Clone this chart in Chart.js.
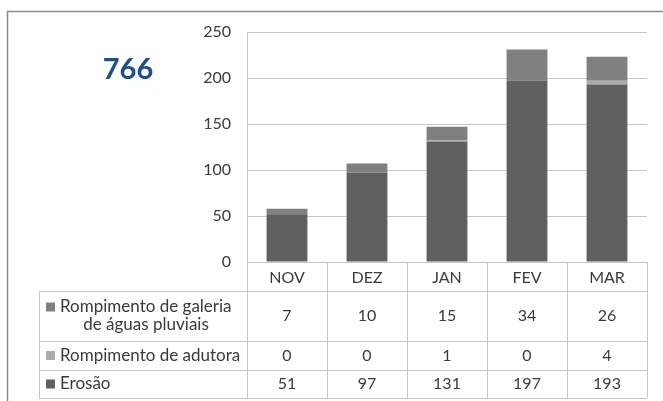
<!DOCTYPE html>
<html>
<head>
<meta charset="utf-8">
<script src="https://cdn.jsdelivr.net/npm/chart.js@4"></script>
<style>
  html, body { margin: 0; padding: 0; background: #fff; }
  #wrap { width: 663px; height: 401px; }
</style>
</head>
<body>
<div id="wrap"><canvas id="chart" width="663" height="401"></canvas></div>
<script>
// chart data
const months = ["NOV", "DEZ", "JAN", "FEV", "MAR"];
const erosao = [51, 97, 131, 197, 193];
const adutora = [0, 0, 1, 0, 4];
const galeria = [7, 10, 15, 34, 26];
const total = "766";
const yTicks = [0, 50, 100, 150, 200, 250];

const FONT = "Lato, 'Liberation Sans', sans-serif";
const TEXT = "#3a3a3a";
const LINE = "#c6c6c6";

// table rows (top to bottom), same order as the Excel data table
const rows = [
  { label: ["Rompimento de galeria", "de águas pluviais"], data: galeria, color: "#808080", top: 291, bottom: 341 },
  { label: ["Rompimento de adutora"], data: adutora, color: "#ababab", top: 341, bottom: 370 },
  { label: ["Erosão"], data: erosao, color: "#606060", top: 370, bottom: 398 },
];

// draws frame, big number and the data table under the chart
const tablePlugin = {
  id: "dataTable",
  afterDraw(chart) {
    const ctx = chart.ctx;
    const x = chart.scales.x;
    const area = chart.chartArea;
    const half = (x.getPixelForValue(1) - x.getPixelForValue(0)) / 2;
    const tableLeft = 39;
    const tableBottom = 398;

    ctx.save();

    // outer frame
    ctx.strokeStyle = "#8c8c8c";
    ctx.lineWidth = 1.5;
    ctx.beginPath();
    ctx.moveTo(7.5, 401);
    ctx.lineTo(7.5, 11.5);
    ctx.lineTo(663, 11.5);
    ctx.stroke();

    // big total
    ctx.fillStyle = "#1f4e8c";
    ctx.font = "bold 29px " + FONT;
    ctx.textAlign = "center";
    ctx.textBaseline = "middle";
    ctx.fillText(total, 128, 70);

    // table grid
    ctx.strokeStyle = LINE;
    ctx.lineWidth = 1;
    ctx.beginPath();
    for (let i = 0; i <= months.length; i++) {
      const bx = Math.round(x.getPixelForValue(0) - half + i * 2 * half) + 0.5;
      ctx.moveTo(bx, area.bottom);
      ctx.lineTo(bx, tableBottom);
    }
    ctx.moveTo(tableLeft + 0.5, rows[0].top);
    ctx.lineTo(tableLeft + 0.5, tableBottom);
    rows.forEach((r) => {
      ctx.moveTo(tableLeft, r.top + 0.5);
      ctx.lineTo(area.right, r.top + 0.5);
    });
    ctx.moveTo(tableLeft, tableBottom + 0.5);
    ctx.lineTo(area.right, tableBottom + 0.5);
    ctx.stroke();

    // row labels and values
    ctx.textBaseline = "middle";
    rows.forEach((r) => {
      const mid = (r.top + r.bottom) / 2;
      const lines = r.label;
      const lh = 18;
      ctx.font = "17px " + FONT;
      lines.forEach((txt, li) => {
        const ty = mid + (li - (lines.length - 1) / 2) * lh;
        if (li === 0) {
          ctx.fillStyle = r.color;
          ctx.fillRect(46, ty - 4.5, 9, 9);
          ctx.fillStyle = TEXT;
          ctx.textAlign = "left";
          ctx.fillText(txt, 60, ty);
        } else {
          ctx.fillStyle = TEXT;
          ctx.textAlign = "center";
          ctx.fillText(txt, 146, ty);
        }
      });
      ctx.font = "16px " + FONT;
      ctx.textAlign = "center";
      ctx.fillStyle = TEXT;
      r.data.forEach((v, i) => {
        ctx.fillText(String(v), x.getPixelForValue(i), mid);
      });
    });

    ctx.restore();
  },
};

new Chart(document.getElementById("chart"), {
  type: "bar",
  data: {
    labels: months,
    datasets: [
      { label: "Erosão", data: erosao, backgroundColor: "#606060" },
      { label: "Rompimento de adutora", data: adutora, backgroundColor: "#ababab" },
      { label: "Rompimento de galeria de águas pluviais", data: galeria, backgroundColor: "#808080" },
    ],
  },
  options: {
    responsive: false,
    animation: false,
    layout: { padding: { top: 32, right: 16, bottom: 0, left: 0 } },
    datasets: { bar: { categoryPercentage: 1, barPercentage: 0.51 } },
    plugins: { legend: { display: false }, tooltip: { enabled: false } },
    scales: {
      x: {
        stacked: true,
        afterFit: (s) => { s.height = 139; },
        grid: { drawOnChartArea: false, drawTicks: false },
        border: { display: true, color: LINE },
        ticks: { color: TEXT, font: { family: FONT, size: 16 }, padding: 6 },
      },
      y: {
        stacked: true,
        min: 0,
        max: 250,
        afterFit: (s) => { s.width = 247; },
        afterBuildTicks: (s) => { s.ticks = yTicks.map((v) => ({ value: v })); },
        grid: { color: LINE, drawTicks: false },
        border: { display: true, color: LINE },
        ticks: { color: TEXT, font: { family: FONT, size: 16 }, padding: 16 },
      },
    },
  },
  plugins: [tablePlugin],
});
</script>
</body>
</html>
